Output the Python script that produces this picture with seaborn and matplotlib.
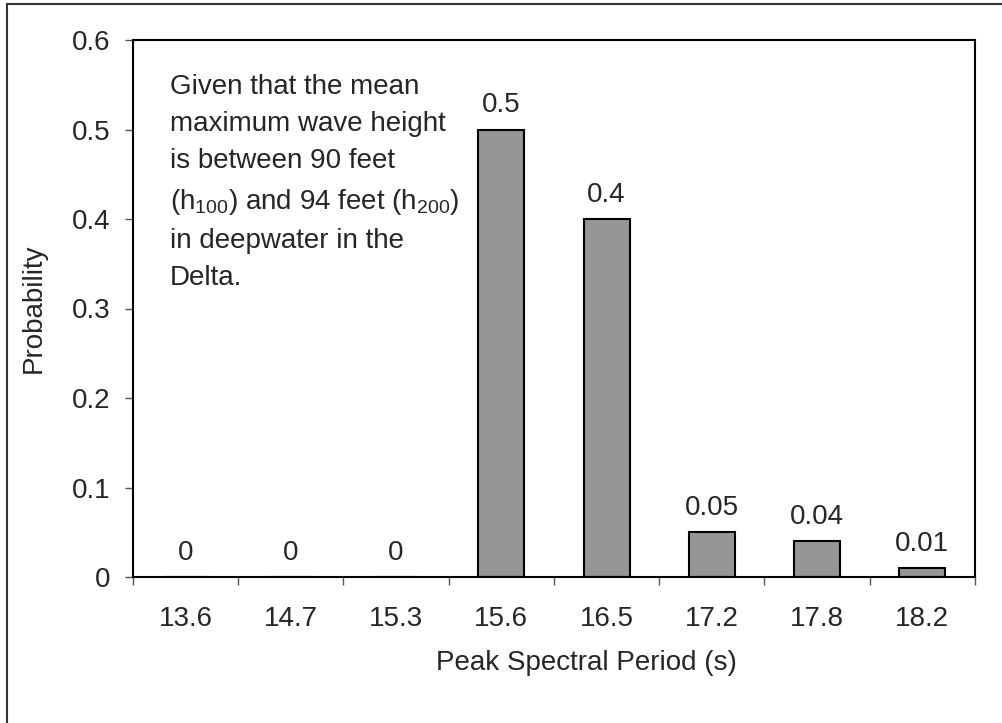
import matplotlib
matplotlib.use("Agg")
import matplotlib.pyplot as plt
import seaborn as sns
import pandas as pd
from matplotlib.patches import Rectangle

# data
periods = ["13.6", "14.7", "15.3", "15.6", "16.5", "17.2", "17.8", "18.2"]
probability = [0, 0, 0, 0.5, 0.4, 0.05, 0.04, 0.01]
value_labels = ["0", "0", "0", "0.5", "0.4", "0.05", "0.04", "0.01"]
yticks = [0, 0.1, 0.2, 0.3, 0.4, 0.5, 0.6]
ytick_labels = ["0", "0.1", "0.2", "0.3", "0.4", "0.5", "0.6"]

df = pd.DataFrame({"Period": periods, "Probability": probability})

sns.set_style("white")
plt.rcParams["font.family"] = ["Liberation Sans", "DejaVu Sans"]
plt.rcParams["mathtext.fontset"] = "custom"
plt.rcParams["mathtext.rm"] = "Liberation Sans"
plt.rcParams["mathtext.it"] = "Liberation Sans"

fig = plt.figure(figsize=(10.03, 7.23), dpi=100)
W, H = 1003, 723
ax = fig.add_axes([133 / W, 1 - 577 / H, (975 - 133) / W, (577 - 40) / H])

sns.barplot(data=df, x="Period", y="Probability", order=periods, color="#969696",
            saturation=1, width=0.435, edgecolor="black", linewidth=1.5, ax=ax)

ax.bar_label(ax.containers[0], labels=value_labels, padding=8, fontsize=20)

ax.set_xlim(-0.5, len(periods) - 0.5)
ax.set_ylim(0, 0.6)
ax.set_yticks(yticks)
ax.set_yticklabels(ytick_labels, fontsize=20)
ax.tick_params(axis="y", direction="out", length=6, width=1, color="#555555", pad=10, left=True)

# category labels at centres, ticks at category boundaries
ax.set_xticks([i - 0.5 for i in range(len(periods) + 1)])
ax.set_xticklabels([])
ax.set_xticks(range(len(periods)), minor=True)
ax.set_xticklabels(periods, minor=True, fontsize=20)
ax.tick_params(axis="x", which="major", direction="out", length=6, width=1, color="#555555", bottom=True)
ax.tick_params(axis="x", which="minor", length=0, pad=21)

for s in ax.spines.values():
    s.set_visible(True)
    s.set_color("black")
    s.set_linewidth(1.5)

ax.set_xlabel("Peak Spectral Period (s)", fontsize=20)
ax.xaxis.set_label_coords((586 - 133) / (975 - 133), -(650 - 577) / (577 - 40))
ax.xaxis.label.set_va("top")
ax.set_ylabel("Probability", fontsize=20, labelpad=18)

ax.text(0.044, 0.937,
        "Given that the mean\nmaximum wave height\nis between 90 feet\n"
        "(h$_{100}$) and 94 feet (h$_{200}$)\nin deepwater in the\nDelta.",
        transform=ax.transAxes, ha="left", va="top", fontsize=20, linespacing=1.56)

# outer chart frame (only left and top edges fall inside the picture)
fig.patches.append(Rectangle((7 / W, -0.1), 1.2, 1.1 - 4 / H,
                             transform=fig.transFigure, fill=False,
                             edgecolor="#333333", linewidth=1.5))

fig.savefig("out.png", dpi=100)
